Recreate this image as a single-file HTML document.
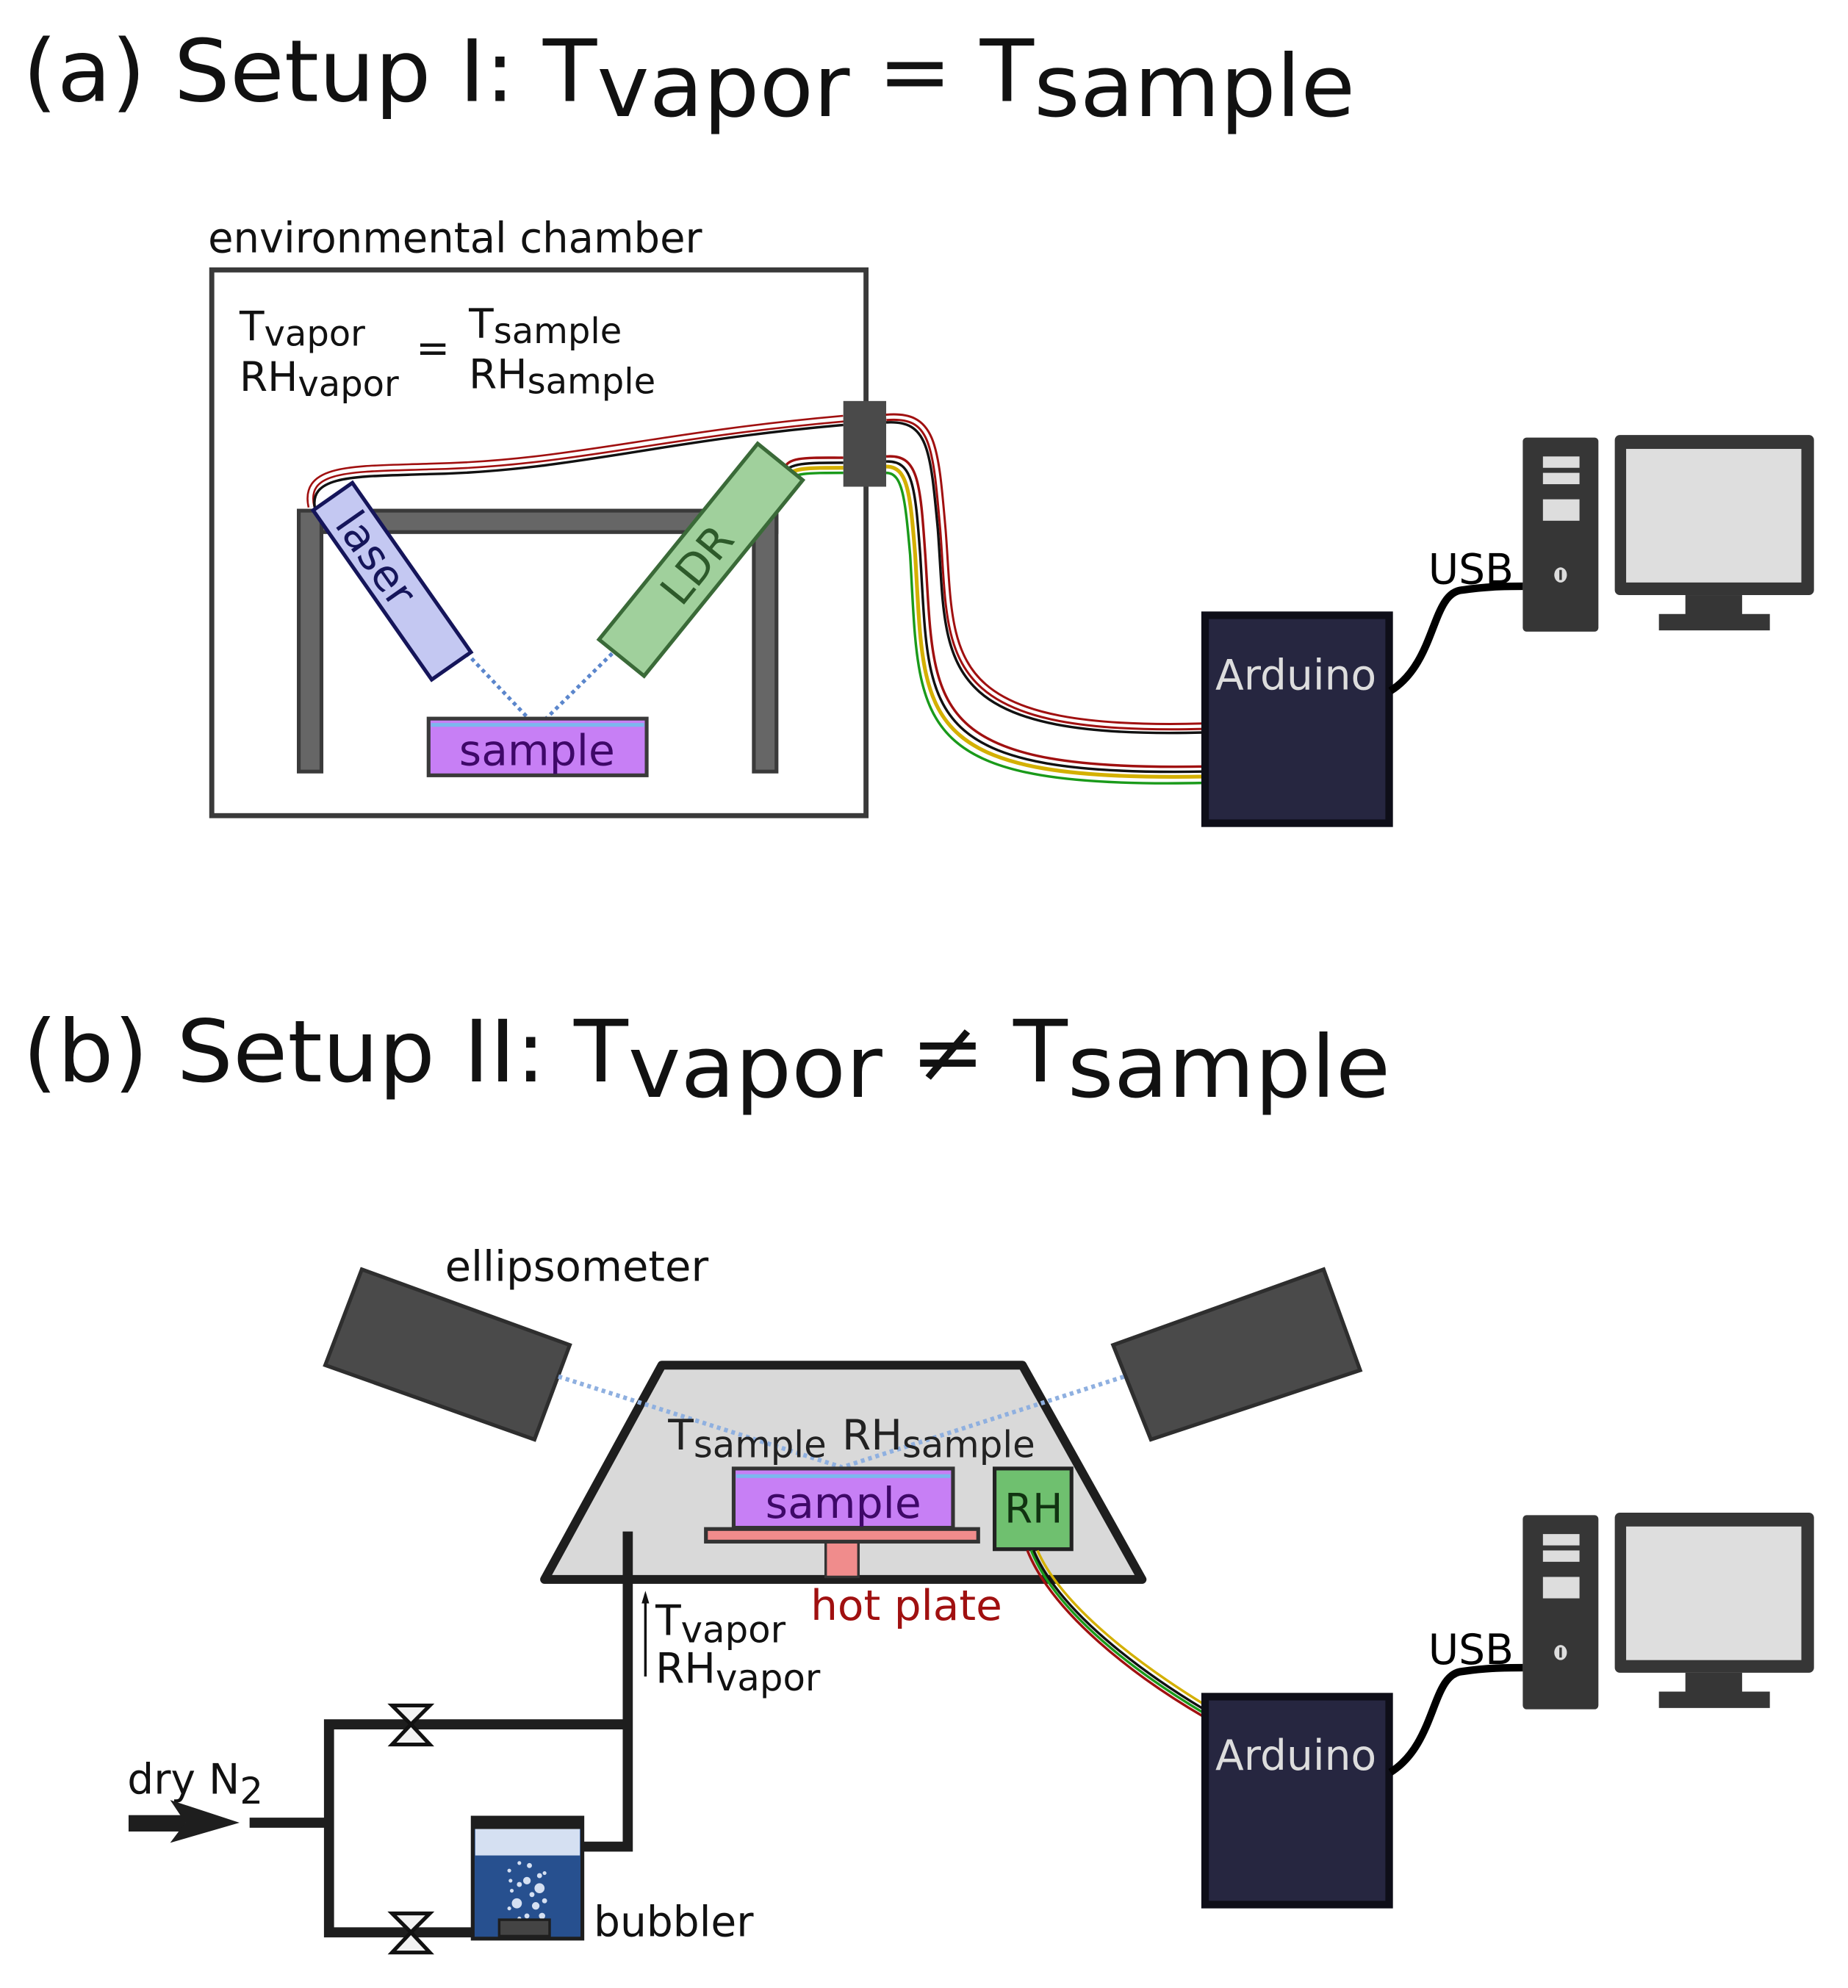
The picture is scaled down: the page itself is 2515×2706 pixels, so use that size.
<!DOCTYPE html>
<html><head><meta charset="utf-8"><style>
html,body{margin:0;padding:0;background:#fff;}
svg{display:block;}
text{font-family:"DejaVu Sans","Liberation Sans",sans-serif;}
</style></head><body>
<svg width="2515" height="2706" viewBox="0 0 1466 1577" xmlns="http://www.w3.org/2000/svg">
<defs>
<g id="pc">
  <rect x="1208" y="347" width="60" height="154" rx="3" fill="#363636"/>
  <rect x="1224" y="362" width="29" height="9" fill="#ddd"/>
  <rect x="1224" y="375" width="29" height="9" fill="#ddd"/>
  <rect x="1224" y="396" width="29" height="17" fill="#ddd"/>
  <ellipse cx="1238" cy="456" rx="5" ry="6" fill="#ddd"/>
  <rect x="1237" y="452" width="2" height="8" fill="#363636"/>
  <rect x="1281" y="345" width="158" height="127" rx="4" fill="#363636"/>
  <rect x="1290" y="356" width="139" height="106" fill="#dedede"/>
  <rect x="1337" y="472" width="45" height="16" fill="#363636"/>
  <rect x="1316" y="487" width="88" height="13" fill="#363636"/>
</g>
</defs>

<!-- (a) title -->
<text x="18" y="80" font-size="68" fill="#111" textLength="1057" lengthAdjust="spacingAndGlyphs">(a) Setup I: T<tspan dy="12">vapor</tspan><tspan dy="-12"> = T</tspan><tspan dy="12">sample</tspan></text>

<text x="165" y="200" font-size="33" fill="#111" textLength="392" lengthAdjust="spacingAndGlyphs">environmental chamber</text>
<rect x="168" y="214" width="519" height="433" fill="#fff" stroke="#3a3a3a" stroke-width="4"/>

<text x="190" y="270" font-size="32" fill="#111">T<tspan font-size="28" dy="4">vapor</tspan></text>
<text x="190" y="310" font-size="32" fill="#111">RH<tspan font-size="28" dy="4">vapor</tspan></text>
<text x="330" y="287" font-size="32" fill="#111">=</text>
<text x="372" y="268" font-size="32" fill="#111">T<tspan font-size="28" dy="4">sample</tspan></text>
<text x="372" y="308" font-size="32" fill="#111">RH<tspan font-size="28" dy="4">sample</tspan></text>

<!-- table -->
<rect x="237" y="405" width="379" height="17" fill="#666" stroke="#3a3a3a" stroke-width="3"/>
<rect x="237" y="405" width="18" height="207" fill="#666" stroke="#3a3a3a" stroke-width="3"/>
<rect x="598" y="405" width="18" height="207" fill="#666" stroke="#3a3a3a" stroke-width="3"/>

<!-- beams -->
<path d="M370 518 L426 577 L488 516" fill="none" stroke="#5b86cc" stroke-width="3" stroke-dasharray="3,3"/>

<!-- sample -->
<rect x="340" y="570" width="173" height="45" fill="#c77ff5" stroke="#3a3a3a" stroke-width="3"/>
<line x1="342" y1="575" x2="511" y2="575" stroke="#7cb7ee" stroke-width="3"/>
<text x="426" y="607" font-size="34" fill="#3e0868" text-anchor="middle">sample</text>

<!-- wires laser -->
<path d="M247 402 C240 370 280 372 340 370 C450 368 520 345 669 332" fill="none" stroke="#a01010" stroke-width="6"/>
<path d="M247 402 C240 370 280 372 340 370 C450 368 520 345 669 332" fill="none" stroke="#fff" stroke-width="3"/>
<path d="M250 404 C244 376 284 378 340 376 C450 374 520 350 669 337" fill="none" stroke="#111" stroke-width="2"/>
<!-- wires LDR -->
<path d="M622 372 C625 362 640 363 669 363" fill="none" stroke="#a01010" stroke-width="2"/>
<path d="M622 376 C625 367 640 367 669 367" fill="none" stroke="#111" stroke-width="2"/>
<path d="M624 379 C627 371 640 371 669 371" fill="none" stroke="#d4b000" stroke-width="3"/>
<path d="M626 382 C629 375 640 375 669 375" fill="none" stroke="#1a9a1a" stroke-width="2"/>

<!-- laser -->
<g transform="translate(311,461) rotate(55)">
  <rect x="-82" y="-19" width="164" height="38" fill="#c4c8f2" stroke="#15155a" stroke-width="3"/>
  <text x="-22" y="12" font-size="34" fill="#15155a" text-anchor="middle">laser</text>
</g>
<!-- LDR -->
<g transform="translate(556,444) rotate(-51)">
  <rect x="-100" y="-23" width="200" height="46" fill="#a0d09c" stroke="#3a6a38" stroke-width="3"/>
  <text x="-5" y="12" font-size="34" fill="#2d5a2a" text-anchor="middle">LDR</text>
</g>

<!-- connector -->
<rect x="669" y="318" width="34" height="68" fill="#4a4a4a"/>

<!-- outside wires -->
<path d="M703 331 C740 328 742 350 748 420 C756 520 740 582 955 576" fill="none" stroke="#a01010" stroke-width="6"/>
<path d="M703 331 C740 328 742 350 748 420 C756 520 740 582 955 576" fill="none" stroke="#fff" stroke-width="2.5"/>
<path d="M703 335 C736 333 738 355 744 420 C752 525 736 587 955 581" fill="none" stroke="#111" stroke-width="2"/>
<path d="M703 362 C728 360 730 380 734 440 C742 560 730 612 955 608" fill="none" stroke="#a01010" stroke-width="2"/>
<path d="M703 366 C724 365 726 385 730 440 C738 565 726 616 955 612" fill="none" stroke="#111" stroke-width="2"/>
<path d="M703 370 C720 370 722 390 726 440 C734 570 722 620 955 616" fill="none" stroke="#d4b000" stroke-width="3"/>
<path d="M703 375 C716 375 718 395 722 440 C730 575 718 626 955 621" fill="none" stroke="#1a9a1a" stroke-width="2"/>

<!-- arduino a -->
<rect x="956" y="488" width="146" height="165" fill="#262640" stroke="#0e0e18" stroke-width="6"/>
<text x="1028" y="547" font-size="33" fill="#ddd" text-anchor="middle">Arduino</text>
<path d="M1103 548 C1140 525 1135 470 1160 468 C1180 465 1195 465 1208 465" fill="none" stroke="#000" stroke-width="6"/>
<text x="1133" y="463" font-size="33" fill="#000">USB</text>
<use href="#pc"/>

<!-- (b) title -->
<text x="18" y="858" font-size="68" fill="#111" textLength="1085" lengthAdjust="spacingAndGlyphs">(b) Setup II: T<tspan dy="12">vapor</tspan><tspan dy="-12"> ≠ T</tspan><tspan dy="12">sample</tspan></text>

<!-- ellipsometers -->
<text x="353" y="1016" font-size="33" fill="#111" textLength="209" lengthAdjust="spacingAndGlyphs">ellipsometer</text>
<polygon points="287,1007 452,1067 424,1142 258,1083" fill="#4a4a4a" stroke="#2e2e2e" stroke-width="3"/>
<polygon points="883,1067 1050,1007 1079,1087 913,1142" fill="#4a4a4a" stroke="#2e2e2e" stroke-width="3"/>

<!-- chamber -->
<polygon points="525,1083 811,1083 906,1253 432,1253" fill="#d9d9d9" stroke="#1e1e1e" stroke-width="7" stroke-linejoin="round"/>
<path d="M443 1092 L668 1164 L892 1092" fill="none" stroke="#8fb0e0" stroke-width="3.5" stroke-dasharray="3,3"/>
<text x="530" y="1150" font-size="33" fill="#222">T<tspan font-size="29" dy="6">sample</tspan></text>
<text x="668" y="1150" font-size="33" fill="#222">RH<tspan font-size="29" dy="6">sample</tspan></text>

<rect x="582" y="1165" width="174" height="47" fill="#c77ff5" stroke="#333" stroke-width="3"/>
<line x1="584" y1="1171" x2="754" y2="1171" stroke="#7cb7ee" stroke-width="3"/>
<text x="669" y="1204" font-size="34" fill="#3e0868" text-anchor="middle">sample</text>
<rect x="655" y="1220" width="26" height="31" fill="#f08c8c" stroke="#333" stroke-width="2"/>
<rect x="560" y="1213" width="216" height="10" fill="#f08c8c" stroke="#333" stroke-width="3"/>
<text x="643" y="1285" font-size="33" fill="#a01010" textLength="152" lengthAdjust="spacingAndGlyphs">hot plate</text>

<rect x="789" y="1165" width="61" height="64" fill="#6fc06f" stroke="#222" stroke-width="3"/>
<text x="820" y="1208" font-size="32" fill="#113311" text-anchor="middle">RH</text>
<path d="M815 1230 C835 1280 900 1330 955 1362" fill="none" stroke="#a01010" stroke-width="2"/>
<path d="M818 1230 C838 1280 903 1328 955 1359" fill="none" stroke="#1a9a1a" stroke-width="2"/>
<path d="M820 1230 C840 1278 905 1326 955 1356" fill="none" stroke="#111" stroke-width="2"/>
<path d="M823 1230 C843 1276 908 1323 955 1352" fill="none" stroke="#d4b000" stroke-width="2"/>

<!-- pipes -->
<g fill="none" stroke="#1e1e1e" stroke-width="8">
<path d="M498 1215 V1465 H462"/>
<path d="M498 1368 H261 V1533 H380"/>
<path d="M198 1446 H261"/>
</g>
<path d="M512 1330 V1265" stroke="#111" stroke-width="2"/>
<polygon points="512,1262 509,1272 515,1272" fill="#111"/>
<text x="520" y="1297" font-size="33" fill="#111">T<tspan font-size="29" dy="6">vapor</tspan></text>
<text x="520" y="1335" font-size="33" fill="#111">RH<tspan font-size="29" dy="6">vapor</tspan></text>

<!-- valves -->
<g fill="#f2f2f2" stroke="#111" stroke-width="3">
<polygon points="311,1353 341,1353 326,1368"/><polygon points="311,1384 341,1384 326,1368"/>
<polygon points="311,1518 341,1518 326,1533"/><polygon points="311,1549 341,1549 326,1533"/>
</g>

<!-- dry N2 arrow -->
<text x="101" y="1423" font-size="33" fill="#111">dry N<tspan font-size="29" dy="8">2</tspan></text>
<rect x="102" y="1440" width="45" height="13" fill="#1e1e1e"/>
<polygon points="135,1428 190,1446 135,1462 147,1446" fill="#1e1e1e"/>

<!-- bubbler -->
<rect x="375" y="1442" width="87" height="96" fill="#27508f" stroke="#1e1e1e" stroke-width="3"/>
<rect x="377" y="1450" width="83" height="22" fill="#d5e0f2"/>
<rect x="375" y="1442" width="87" height="9" fill="#1e1e1e"/>
<g fill="#d5e0f2">
<circle cx="420" cy="1480" r="2"/><circle cx="428" cy="1488" r="2"/><circle cx="404" cy="1484" r="1.5"/><circle cx="412" cy="1478" r="1.5"/>
<circle cx="418" cy="1492" r="3"/><circle cx="428" cy="1498" r="4"/><circle cx="412" cy="1495" r="2"/><circle cx="406" cy="1500" r="1.5"/>
<circle cx="422" cy="1503" r="2"/><circle cx="432" cy="1508" r="2"/><circle cx="410" cy="1510" r="4"/><circle cx="425" cy="1512" r="3"/>
<circle cx="404" cy="1514" r="1.5"/><circle cx="430" cy="1520" r="2.5"/><circle cx="418" cy="1520" r="2"/><circle cx="412" cy="1522" r="1.5"/>
<circle cx="432" cy="1486" r="1.5"/><circle cx="405" cy="1492" r="1.5"/>
</g>
<rect x="396" y="1523" width="40" height="13" fill="#444" stroke="#1e1e1e" stroke-width="2"/>
<text x="471" y="1536" font-size="33" fill="#111">bubbler</text>

<!-- arduino b -->
<rect x="956" y="1346" width="146" height="165" fill="#262640" stroke="#0e0e18" stroke-width="6"/>
<text x="1028" y="1404" font-size="33" fill="#ddd" text-anchor="middle">Arduino</text>
<path d="M1103 1406 C1140 1383 1135 1328 1160 1326 C1180 1323 1195 1323 1208 1323" fill="none" stroke="#000" stroke-width="6"/>
<text x="1133" y="1320" font-size="33" fill="#000">USB</text>
<use href="#pc" transform="translate(0,855)"/>
</svg>
</body></html>
